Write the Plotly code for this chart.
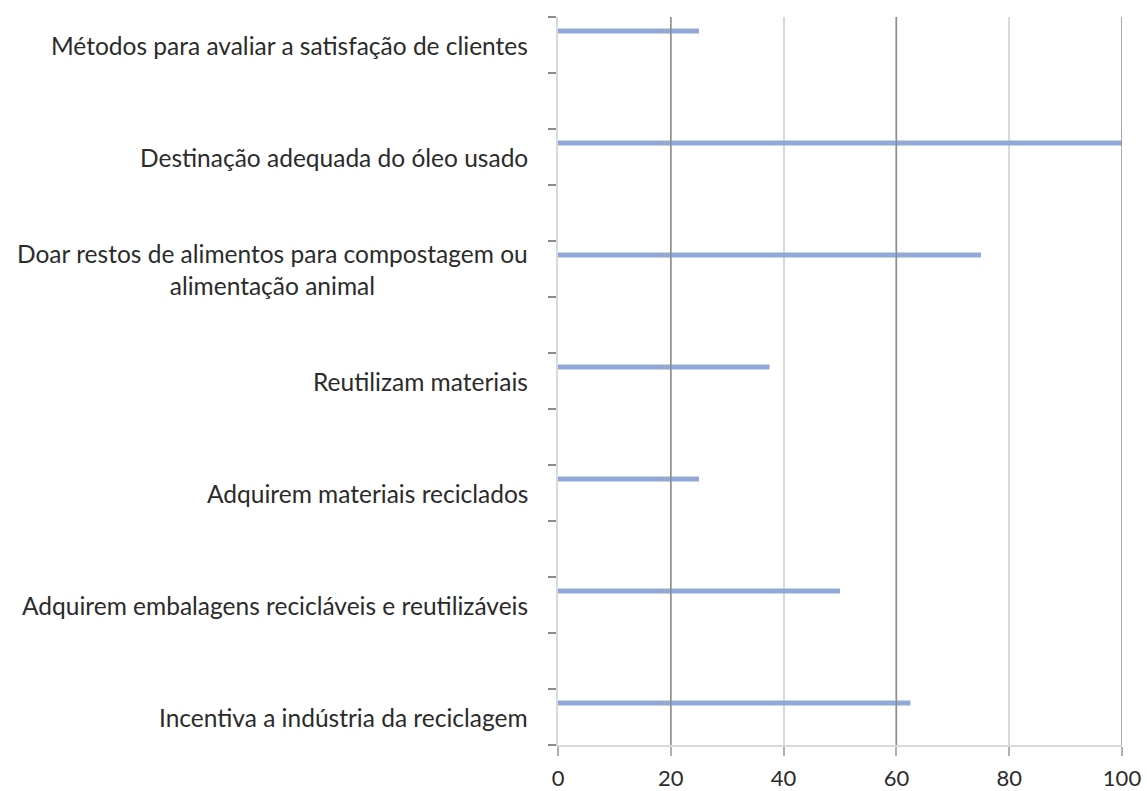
import plotly.graph_objects as go

# Practices and the share of establishments adopting each one (%)
practices = [
    "Métodos para avaliar a satisfação de clientes",
    "Destinação adequada do óleo usado",
    "Doar restos de alimentos para compostagem ou<br>alimentação animal",
    "Reutilizam materiais",
    "Adquirem materiais reciclados",
    "Adquirem embalagens recicláveis e reutilizáveis",
    "Incentiva a indústria da reciclagem",
]
shares = [25, 100, 75, 37.5, 25, 50, 62.5]

x_ticks = [0, 20, 40, 60, 80, 100]
dark_grid = [20, 60, 100]

FONT = "Lato"
TEXT = "#2b2b2b"
BAR = "#91a9d6"

# each practice sits on every other row of a 13-row layout
rows = [2 * i for i in range(len(practices))]
n_rows = 2 * len(practices) - 1

fig = go.Figure()
fig.add_trace(go.Bar(
    x=shares,
    y=rows,
    orientation="h",
    width=0.09,
    offset=-0.295,
    marker=dict(color=BAR, line=dict(width=0)),
    hoverinfo="x",
))

for pos, label in zip(rows, practices):
    fig.add_annotation(
        x=0, xref="paper", xanchor="right", xshift=-28,
        y=pos, yref="y", yanchor="middle",
        text=label, align="center", showarrow=False,
        font=dict(family=FONT, size=24.5, color=TEXT),
    )

# alternate darker gridlines, drawn over the bars
for v in dark_grid:
    fig.add_vline(x=v, line=dict(color="#8c8c8c", width=1.5), layer="above")

fig.update_xaxes(
    range=[0, 100],
    tickvals=x_ticks,
    ticktext=[str(v) for v in x_ticks],
    showgrid=True, gridcolor="#d9d9d9", gridwidth=2,
    showline=True, linecolor="#d9d9d9", linewidth=2,
    ticks="outside", ticklen=9, tickcolor="#b0b0b0", tickwidth=1.5,
    ticklabelstandoff=4,
    zeroline=False, automargin=False,
    tickfont=dict(family=FONT, size=22, color=TEXT),
)
fig.update_yaxes(
    range=[n_rows - 0.5, -0.5],
    tickvals=[k - 0.5 for k in range(n_rows + 1)],
    showticklabels=False,
    showgrid=False, zeroline=False, automargin=False,
    showline=True, linecolor="#d9d9d9", linewidth=2,
    ticks="outside", ticklen=8, tickcolor="#8c8c8c", tickwidth=1.5,
)

fig.update_layout(
    width=1147, height=791,
    margin=dict(l=558, r=25, t=17, b=46),
    plot_bgcolor="white", paper_bgcolor="white",
    showlegend=False,
    font=dict(family=FONT, color=TEXT),
)

fig.write_html("out.html")
